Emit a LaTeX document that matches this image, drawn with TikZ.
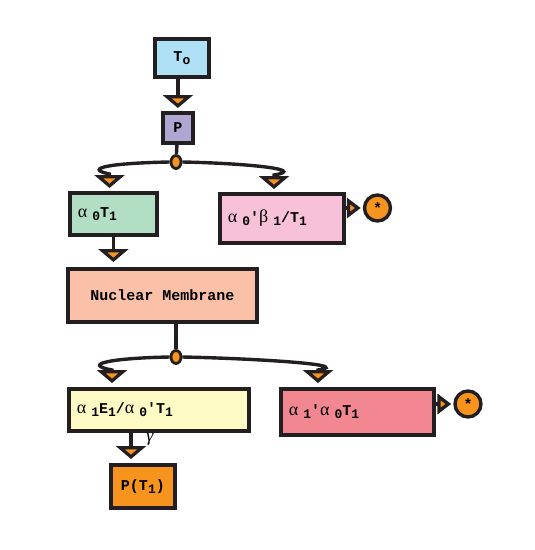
\documentclass[tikz,border=0pt]{standalone}
\usepackage{fontspec}
\setmonofont{Liberation Mono}
\newfontfamily\grkfont{Liberation Serif}
\usetikzlibrary{arrows.meta,shapes.geometric}
\definecolor{edge}{HTML}{231F20}
\definecolor{tipor}{HTML}{F7941E}
\definecolor{cblue}{HTML}{AEE0F6}
\definecolor{clav}{HTML}{AFA6D2}
\definecolor{cgreen}{HTML}{B2DEC4}
\definecolor{cpink}{HTML}{F7C1DA}
\definecolor{csalmon}{HTML}{FBC1A8}
\definecolor{cyellow}{HTML}{FDFAC4}
\definecolor{crose}{HTML}{F28791}
\newcommand{\lo}[1]{\raisebox{-3pt}{\fontsize{13}{13}\selectfont #1}}
\newcommand{\al}{{\grkfont\mdseries\fontsize{18}{18}\selectfont α}\hspace{5pt}}
\newcommand{\be}{{\grkfont\mdseries\fontsize{18}{18}\selectfont β}\hspace{5pt}}
\begin{document}
\begin{tikzpicture}[x=1pt,y=-1pt,
    box/.style={draw=edge,line width=3.8pt,anchor=north west,inner xsep=8pt,inner ysep=0pt,
      font=\ttfamily\bfseries\fontsize{15}{18}\selectfont},
    link/.style={draw=edge,line width=3.4pt},
    dtip/.style={-{Triangle[width=30pt,length=13pt,line width=3.4pt,fill=tipor]}},
    rtip/.style={-{Triangle[width=20pt,length=14pt,line width=3.4pt,fill=tipor]}},
    knot/.style={ellipse,draw=edge,fill=tipor,line width=2.8pt,minimum width=10pt,minimum height=13pt,inner sep=0pt},
    star/.style={circle,draw=edge,fill=tipor,line width=3.4pt,minimum size=26pt,inner sep=0pt,
      font=\ttfamily\bfseries\fontsize{15}{15}\selectfont}]
    \useasboundingbox (0,0) rectangle (535,550);
    % boxes
    \node[box,fill=cblue,minimum width=54,minimum height=38] (to) at (153,37) {T\lo{o}};
    \node[box,fill=clav,minimum width=30,minimum height=30] (p) at (161,111) {P};
    \node[box,fill=cgreen,text width=71,align=left,minimum height=42] (a0t) at (68,191) {\al\lo{0}T\lo{1}};
    \node[box,fill=cpink,text width=108,align=left,minimum height=49] (ab) at (218,192) {\al\lo{0}'\be\lo{1}/T\lo{1}};
    \node[box,fill=csalmon,minimum width=189,minimum height=53] (nm) at (66,267) {Nuclear Membrane};
    \node[box,fill=cyellow,text width=164,align=left,minimum height=42] (ae) at (67,387) {\al\lo{1}E\lo{1}/\al\lo{0}'T\lo{1}};
    \node[box,fill=crose,text width=137,align=left,minimum height=46] (aa) at (279,387) {\al\lo{1}'\al\lo{0}T\lo{1}};
    \node[box,fill=tipor,minimum width=64,minimum height=43] (pt) at (109,463) {P(T\lo{1})};
    % junctions and end marks
    \node[knot] (k1) at (176,162) {};
    \node[knot] (k2) at (176,357) {};
    \node[star] (c1) at (377.5,208) {*};
    \node[star] (c2) at (468,404) {*};
    \coordinate (gx) at ([xshift=22pt]pt.north west);
    % connectors
    \draw[link,dtip,shorten >=3pt] (p.north |- to.south) -- (p.north);
    \draw[link] (p) -- (k1);
    \draw[link,dtip,shorten >=3pt] (k1.west) .. controls +(-56,1) and +(-28,-6) .. ([xshift=41.5pt,yshift=17pt]a0t.north west) -- ([xshift=41.5pt]a0t.north west);
    \draw[link,dtip,shorten >=3pt] (k1.east) .. controls +(56,1) and +(36,-6) .. ([xshift=56pt,yshift=17pt]ab.north west) -- ([xshift=56pt]ab.north west);
    \draw[link,rtip,shorten >=2pt] (ab.east |- c1) -- (c1);
    \draw[link,dtip,shorten >=5pt] (a0t.south) -- (a0t.south |- nm.north);
    \draw[link] (k2 |- nm.south) -- (k2);
    \draw[link,dtip,shorten >=4pt] (k2.west) .. controls +(-56,1) and +(-32,-6) .. ([xshift=45pt,yshift=17pt]ae.north west) -- ([xshift=45pt]ae.north west);
    \draw[link,dtip,shorten >=4pt] (k2.east) .. controls +(56,1) and +(40,-6) .. ([xshift=39pt,yshift=17pt]aa.north west) -- ([xshift=39pt]aa.north west);
    \draw[link,rtip,shorten >=2pt] (aa.east |- c2) -- (c2);
    \draw[link,dtip,shorten >=4pt] (gx |- ae.south) -- (gx);
    \node[font=\grkfont\itshape\fontsize{18}{18}\selectfont] (gam) at (150,439) {γ};
\end{tikzpicture}
\end{document}
